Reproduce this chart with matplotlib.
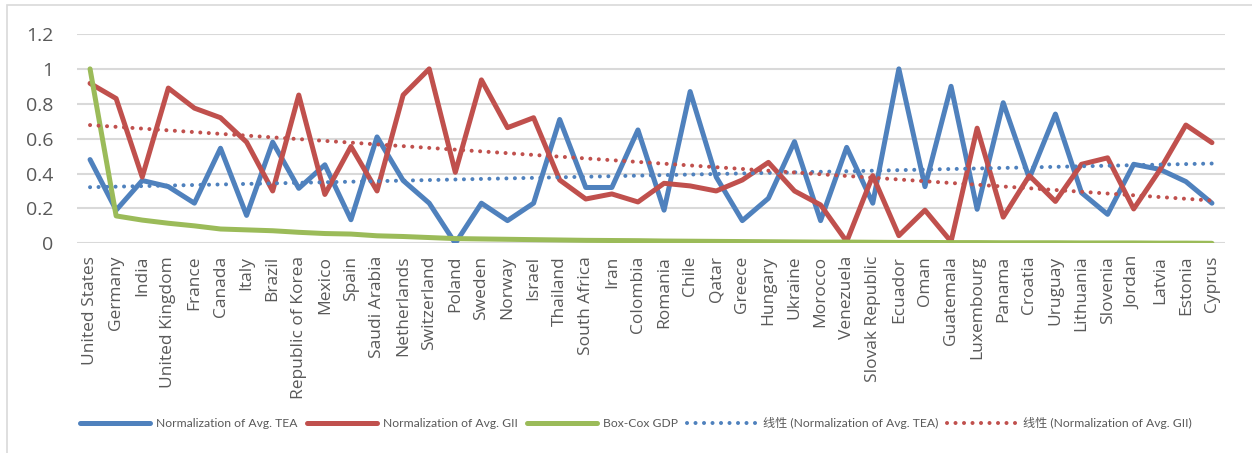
import numpy as np
import matplotlib
matplotlib.use("Agg")
import matplotlib.pyplot as plt
from matplotlib.patches import Rectangle

countries = ["United States", "Germany", "India", "United Kingdom", "France", "Canada",
             "Italy", "Brazil", "Republic of Korea", "Mexico", "Spain", "Saudi Arabia",
             "Netherlands", "Switzerland", "Poland", "Sweden", "Norway", "Israel",
             "Thailand", "South Africa", "Iran", "Colombia", "Romania", "Chile", "Qatar",
             "Greece", "Hungary", "Ukraine", "Morocco", "Venezuela", "Slovak Republic",
             "Ecuador", "Oman", "Guatemala", "Luxembourg", "Panama", "Croatia", "Uruguay",
             "Lithuania", "Slovenia", "Jordan", "Latvia", "Estonia", "Cyprus"]

tea = [0.48, 0.19, 0.36, 0.325, 0.23, 0.545, 0.16, 0.58, 0.315, 0.45, 0.135, 0.61,
       0.36, 0.23, 0.0, 0.23, 0.13, 0.23, 0.71, 0.32, 0.32, 0.65, 0.19, 0.87, 0.38,
       0.13, 0.258, 0.583, 0.13, 0.55, 0.23, 1.0, 0.325, 0.90, 0.195, 0.806, 0.373,
       0.741, 0.29, 0.166, 0.453, 0.424, 0.354, 0.23]

gii = [0.917, 0.83, 0.38, 0.89, 0.775, 0.72, 0.58, 0.30, 0.85, 0.28, 0.555, 0.30,
       0.85, 1.0, 0.407, 0.937, 0.663, 0.72, 0.363, 0.254, 0.283, 0.237, 0.344, 0.329,
       0.30, 0.363, 0.464, 0.30, 0.22, 0.01, 0.388, 0.044, 0.19, 0.01, 0.66, 0.15,
       0.388, 0.24, 0.453, 0.49, 0.197, 0.42, 0.678, 0.577]

gdp = [1.0, 0.157, 0.133, 0.115, 0.10, 0.082, 0.077, 0.072, 0.063, 0.056, 0.053, 0.043,
       0.039, 0.033, 0.027, 0.025, 0.023, 0.021, 0.019, 0.017, 0.016, 0.015, 0.013, 0.012,
       0.011, 0.010, 0.009, 0.008, 0.007, 0.007, 0.006, 0.005, 0.005, 0.004, 0.004, 0.003,
       0.003, 0.003, 0.002, 0.002, 0.002, 0.001, 0.001, 0.0]

yticks = [0, 0.2, 0.4, 0.6, 0.8, 1, 1.2]
ytick_labels = ["0", "0.2", "0.4", "0.6", "0.8", "1", "1.2"]

labels = ["Normalization of Avg. TEA", "Normalization of Avg. GII", "Box-Cox GDP",
          "线性 (Normalization of Avg. TEA)", "线性 (Normalization of Avg. GII)"]

BLUE = "#4f81bd"
RED = "#c0504d"
GREEN = "#9bbb59"
GRID = "#d9d9d9"
TXT = "#595959"

plt.rcParams['font.family'] = ['Open Sans', 'Noto Sans CJK SC', 'DejaVu Sans']

W, H = 1252, 453
fig = plt.figure(figsize=(W / 100, H / 100), dpi=100)
fig.patch.set_facecolor("white")

# outer chart frame
fig.patches.append(Rectangle((7 / W, -0.1), 1.2, 1 - 5 / H + 0.1, transform=fig.transFigure,
                             fill=False, edgecolor=GRID, linewidth=1.2))

ax = fig.add_axes([77 / W, 1 - 243.3 / H, (1225 - 77) / W, (243.3 - 34) / H])
x = np.arange(len(countries))

ax.plot(x, tea, color=BLUE, lw=3.6, solid_joinstyle="round", solid_capstyle="round", label=labels[0], zorder=3)
ax.plot(x, gii, color=RED, lw=3.6, solid_joinstyle="round", solid_capstyle="round", label=labels[1], zorder=3)
ax.plot(x, gdp, color=GREEN, lw=3.6, solid_joinstyle="round", solid_capstyle="round", label=labels[2], zorder=3)

pt = np.polyfit(x, tea, 1)
pg = np.polyfit(x, gii, 1)
ax.plot(x, np.polyval(pt, x), color=BLUE, lw=2.9, linestyle=(0, (0.01, 2.1)),
        dash_capstyle="round", label=labels[3], zorder=4)
ax.plot(x, np.polyval(pg, x), color=RED, lw=2.9, linestyle=(0, (0.01, 2.1)),
        dash_capstyle="round", label=labels[4], zorder=4)

ax.set_xlim(-0.5, len(countries) - 0.5)
ax.set_ylim(0, 1.2)
ax.set_yticks(yticks)
ax.set_yticklabels(ytick_labels)
ax.set_xticks(x)
ax.set_xticklabels(countries, rotation=90, ha="center", va="top")
ax.tick_params(axis="both", length=0, colors=TXT)
ax.tick_params(axis="y", labelsize=14, pad=17)
ax.tick_params(axis="x", labelsize=12.5, pad=9)
ax.grid(axis="y", color=GRID, linewidth=1.5, zorder=0)
for s in ax.spines.values():
    s.set_visible(False)
ax.set_axisbelow(True)

leg = fig.legend(loc="center", bbox_to_anchor=(636 / W, 1 - 423 / H), ncol=5, frameon=False,
                 handlelength=5.8, handletextpad=0.5, columnspacing=0.75,
                 prop={"family": ['Lato', 'Noto Sans CJK SC', 'DejaVu Sans'], "size": 8.7})
for t in leg.get_texts():
    t.set_color(TXT)

fig.savefig("out.png", dpi=100)
